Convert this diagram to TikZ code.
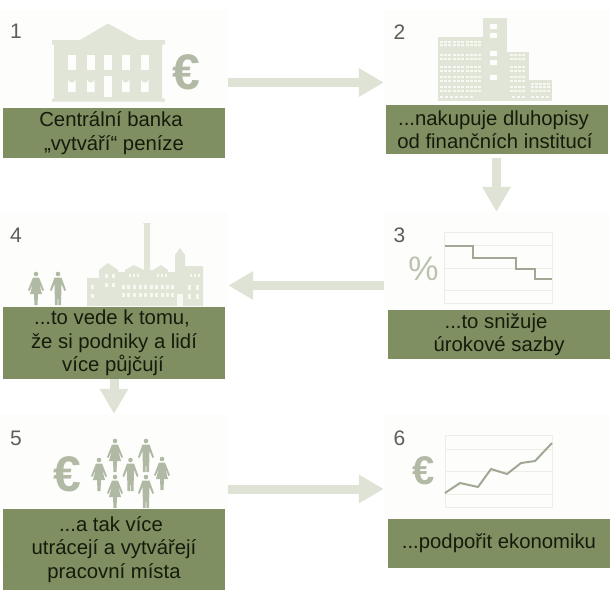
\documentclass[tikz,border=0pt]{standalone}
\usepackage{fontspec}
\setmainfont{Liberation Sans}
\usetikzlibrary{arrows.meta}
\definecolor{panelc}{HTML}{FDFEFC}
\definecolor{boxc}{HTML}{7F8F62}
\definecolor{txtc}{HTML}{141B0B}
\definecolor{numc}{HTML}{5A6055}
\definecolor{iconc}{HTML}{E0E5D7}
\definecolor{arrowc}{HTML}{DEE3D5}
\definecolor{euroc}{HTML}{B2BAA6}
\definecolor{peoplec}{HTML}{B0B9A4}
\definecolor{gridc}{HTML}{ECEFE7}
\definecolor{linec}{HTML}{A0A895}
\definecolor{pctc}{HTML}{BBC2B0}
\definecolor{smallwin}{HTML}{F6F8F2}
\tikzset{
  panel/.style={fill=panelc,draw=none,inner sep=0pt,minimum width=#1},
  textbox/.style={fill=boxc,draw=none,inner sep=0pt,text=txtc,align=center,minimum width=222pt,
    font=\fontsize{20.3}{23.5}\selectfont},
  num/.style={text=numc,inner sep=0pt,font=\fontsize{21}{22}\selectfont},
  euro/.style={text=euroc,inner sep=0pt},
  flow/.style={draw=arrowc,line width=9pt,-{Triangle[length=25pt,width=27pt,fill=arrowc]}},
  icon/.style={fill=iconc,draw=none},
  win/.style={fill=panelc,draw=none},
  swin/.style={fill=smallwin,draw=none},
  grid/.style={draw=gridc,line width=0.9pt},
  trend/.style={draw=linec,line width=2pt,line join=miter}
}
\newcommand{\woman}[3]{\fill[#3,shift={(#1,#2)}] (0,0) circle (2.3)
  (-3,3.5)--(3,3.5)--(8,16)--(6.5,17)--(3,9)--(6,20)--(2,20)--(1.5,31)--(-1.5,31)--(-2,20)--(-6,20)--(-3,9)--(-6.5,17)--(-8,16)--cycle;}
\newcommand{\man}[3]{\fill[#3,shift={(#1,#2)}] (0,0) circle (2.3)
  (-3.5,3.5)--(3.5,3.5)--(8,16)--(6.5,17)--(3.5,10)--(3,31)--(0.5,31)--(0,19)--(-0.5,31)--(-3,31)--(-3.5,10)--(-6.5,17)--(-8,16)--cycle;}
\newcommand{\lft}[1]{\hspace*{#1}}
\begin{document}
\begin{tikzpicture}[x=1pt,y=-1pt]
\useasboundingbox (0,0) rectangle (610,590);
% panels
\node[panel=228pt,minimum height=145pt] (p1) at (114,82.5) {};
\node[panel=226pt,minimum height=145pt] (p2) at (497,82.5) {};
\node[panel=226pt,minimum height=147pt] (p3) at (497,285.5) {};
\node[panel=228pt,minimum height=147pt] (p4) at (114,285.5) {};
\node[panel=228pt,minimum height=150pt] (p5) at (114,489) {};
\node[panel=226pt,minimum height=150pt] (p6) at (497,489) {};
% numbers
\node[num] (n1) at (16,31) {1};
\node[num] (n2) at (399.5,32) {2};
\node[num] (n3) at (399.5,235) {3};
\node[num] (n4) at (16,235) {4};
\node[num] (n5) at (16,438) {5};
\node[num] (n6) at (399.5,438) {6};
% bank
\fill[icon] (108,23.5)--(138,40)--(165,40)--(165,44.5)--(162,44.5)--(162,98.5)--(165,98.5)--(165,101.5)--(52,101.5)--(52,98.5)--(54,98.5)--(54,44.5)--(52,44.5)--(52,40)--(80,40)--cycle;
\foreach \x in {68,87,104,122,141}{
  \fill[win] (\x,55) rectangle ++(7.5,15);
  \fill[win] (\x,92) -- ++(0,-13) arc[start angle=180,end angle=0,radius=3.75] -- ++(0,13) -- cycle;
}
\fill[win] (104,76) rectangle (112,97);
\node[euro,font=\bfseries\fontsize{50}{50}\selectfont] (e1) at (186,72) {€};
% building
\fill[icon] (438,37) rectangle (483,101);
\fill[icon] (483,18) rectangle (507,101);
\fill[icon] (507,52) rectangle (529,101);
\fill[icon] (529,80) rectangle (552,101);
\foreach \r in {40.5,44,54,58,66,70,76,80,86,90}{
  \foreach \x in {440,444,448,453,457,461,466,470,474,478}{
    \fill[swin] (\x,\r) rectangle ++(2.6,2.4);
  }
}
\foreach \r in {54,58,66,70,76,80,86,90}{
  \foreach \x in {510,514,518,522}{
    \fill[swin] (\x,\r) rectangle ++(2.6,2.4);
  }
}
\foreach \r in {83,86,90}{
  \foreach \x in {531,535,539,543,547}{
    \fill[swin] (\x,\r) rectangle ++(2.6,2.4);
  }
}
\foreach \x in {440,445,450,455,460,465,470,512,517,522,531,536,541,546}{
  \fill[swin] (\x,95.5) rectangle ++(3,2);
}
\foreach \r in {24,33,51,60,75}{
  \fill[win] (490,\r) rectangle ++(6.5,5);
}
% chart 3
\draw[grid] (444.5,232.5) rectangle (552,303);
\draw[grid] (444.5,245.5)--(552,245.5) (444.5,268)--(552,268) (444.5,290)--(552,290);
\draw[trend] (444.5,245.5)--(473,245.5)--(473,258)--(516,258)--(516,268.5)--(535,268.5)--(535,279)--(552,279);
\node[inner sep=0pt,text=pctc,font=\fontsize{34}{34}\selectfont] (pc) at (423.5,268.5) {\%};
% factory
\fill[icon] (87,306)--(87,278)--(99,278)--(99,270)--(108,263)--(118,270)--(118,272)--(125,272)--(125,270)--(134,265)--(144,270)--(144,224)--(143,223)--(151,223)--(150,224)--(150,270)--(153,270)--(161,265)--(168,270)--(168,272)--(175,272)--(175,255)--(180,248)--(185,255)--(185,266)--(203,266)--(203,306)--cycle;
\foreach \x in {105,112}{\fill[swin] (\x,274) rectangle ++(3,3.5);\fill[swin] (\x,283) rectangle ++(3,4);}
\foreach \x in {129,133,137,157,161,165,190,194,198}{\fill[swin] (\x,274) rectangle ++(2.4,2.6);}
\foreach \r in {285,293}{\foreach \x in {122,127,133,139,144,150,155,161,166,171}{\fill[swin] (\x,\r) rectangle ++(2.6,4);}}
\foreach \r in {285,294}{\foreach \x in {188,196}{\fill[swin] (\x,\r) rectangle ++(3,4.5);}}
\fill[swin] (91,285) rectangle ++(2.6,4);\fill[swin] (91,294) rectangle ++(2.6,4);
\fill[swin] (177,294) rectangle (183,306);
% people
\woman{36}{274}{peoplec}
\man{58}{274}{peoplec}
\woman{115}{441}{peoplec}
\man{146}{441}{peoplec}
\woman{99}{460}{peoplec}
\man{130.5}{460}{peoplec}
\woman{162}{459}{peoplec}
\woman{115}{477}{peoplec}
\man{146}{477}{peoplec}
\node[euro,font=\bfseries\fontsize{50}{50}\selectfont] (e5) at (67,474) {€};
% chart 6
\draw[grid] (445,435) rectangle (552,507);
\draw[grid] (445,449)--(552,449) (445,471)--(552,471) (445,494)--(552,494);
\draw[trend,line join=round] (445,493)--(460,483)--(478,487)--(491,469)--(507,474)--(521,463)--(535,461)--(552,443);
\node[euro,font=\bfseries\fontsize{40}{40}\selectfont] (e6) at (424,471) {€};
% text boxes
\node[textbox,minimum height=50pt] (b1) at (114,133) {Centrální banka\lft{6pt}\\„vytváří“ peníze};
\node[textbox,minimum height=49pt] (b2) at (496.5,129.5) {...nakupuje dluhopisy\lft{6pt}\\od finančních institucí\lft{3pt}};
\node[textbox,minimum height=49pt] (b3) at (499,334.5) {...to snižuje\lft{6pt}\\úrokové sazby};
\node[textbox,minimum height=72pt] (b4) at (114,343) {...to vede k tomu,\lft{4pt}\\že si podniky a lidí\lft{6pt}\\více půjčují\lft{2pt}};
\node[textbox,minimum height=81pt] (b5) at (114,549.5) {...a tak více\lft{6pt}\\utrácejí a vytvářejí\lft{5pt}\\pracovní místa};
\node[textbox,minimum height=49pt] (b6) at (499,543.5) {...podpořit ekonomiku};
% flow arrows
\draw[flow] (p1.east)--(p2.west);
\draw[flow,shorten <=4pt] (b2.south)--(b2.south |- p3.north);
\draw[flow] (p3.west)--(p4.east);
\draw[flow] (b4.south)--(p5.north);
\draw[flow] (p5.east)--(p6.west);
\end{tikzpicture}
\end{document}
